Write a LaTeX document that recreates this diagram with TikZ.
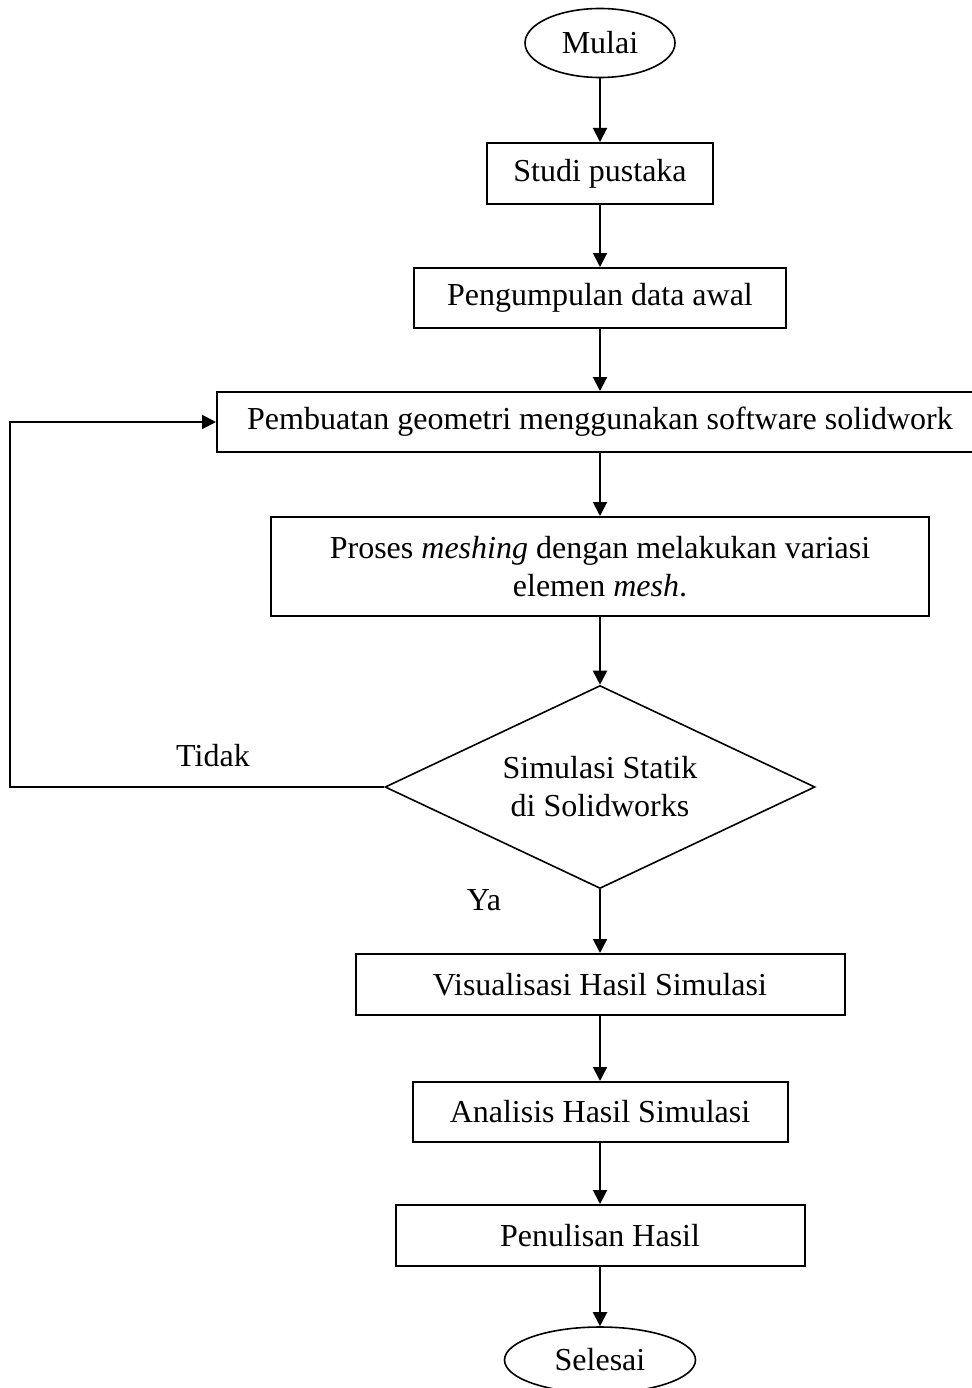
\documentclass[tikz,border=0pt]{standalone}
\usepackage{fontspec}
\setmainfont{Liberation Serif}
\usetikzlibrary{shapes.geometric,arrows.meta}

\begin{document}
\begin{tikzpicture}[x=1pt,y=1pt,yscale=-1,xscale=1,
	every node/.style={font=\fontsize{32}{38}\selectfont},
	proc/.style={draw,line width=2pt,rectangle,inner sep=0pt,align=center},
	term/.style={draw,line width=1.6pt,ellipse,inner sep=0pt},
	dec/.style={draw,line width=1.6pt,diamond,shape aspect=2.1,inner sep=0pt,align=center},
	arr/.style={line width=2pt,-{Triangle[length=14pt,width=14pt]}}]
	\useasboundingbox (0,0) rectangle (971,1388);
	\node [term, minimum width=150, minimum height=69] (mulai) at (600,43) {Mulai};
	\node [proc, minimum width=226, minimum height=61] (studi) at (600,173.5) {Studi pustaka};
	\node [proc, minimum width=372, minimum height=60] (data) at (600,298) {Pengumpulan data awal};
	\node [proc, minimum width=766, minimum height=60] (geo) at (600,422) {Pembuatan geometri menggunakan software solidwork};
	\node [proc, minimum width=658, minimum height=99] (mesh) at (600,566.5) {Proses \textit{meshing} dengan melakukan variasi\\ elemen \textit{mesh}.};
	\node [dec, minimum width=430, minimum height=203] (sim) at (600,787) {Simulasi Statik\\ di Solidworks};
	\node [proc, minimum width=489, minimum height=61] (vis) at (600,984.5) {Visualisasi Hasil Simulasi};
	\node [proc, minimum width=375, minimum height=60] (anl) at (600,1112) {Analisis Hasil Simulasi};
	\node [proc, minimum width=409, minimum height=61] (tulis) at (600,1235.5) {Penulisan Hasil};
	\node [term, minimum width=191, minimum height=66] (selesai) at (600,1360) {Selesai};
	\node (tidak) at (213,756) {Tidak};
	\node (ya) at (484,900) {Ya};
	\coordinate (balik) at (10,787);
	\draw [arr] (mulai.south) -- (studi.north);
	\draw [arr] (studi.south) -- (data.north);
	\draw [arr] (data.south) -- (geo.north);
	\draw [arr] (geo.south) -- (mesh.north);
	\draw [arr] (mesh.south) -- (sim.north);
	\draw [arr] (sim.south) -- (vis.north);
	\draw [arr] (vis.south) -- (anl.north);
	\draw [arr] (anl.south) -- (tulis.north);
	\draw [arr] (tulis.south) -- (selesai.north);
	\draw [arr] (sim.west) -- (balik) |- (geo.west);
\end{tikzpicture}
\end{document}
